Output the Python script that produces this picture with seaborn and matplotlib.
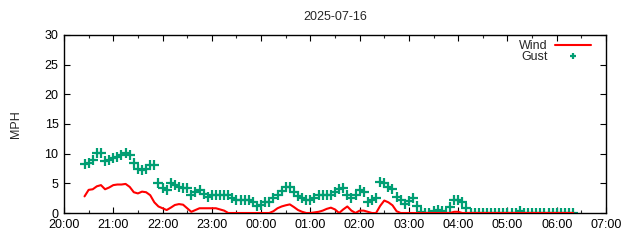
import matplotlib
matplotlib.use("Agg")
import matplotlib.pyplot as plt
import matplotlib.dates as mdates
import numpy as np
import pandas as pd
import seaborn as sns

# ---- data (5-minute samples starting 20:25) ----
start_time = "2025-07-16 20:25"
step = "5min"

wind = [
    2.8, 3.9, 4.0, 4.5, 4.7, 4.0, 4.3, 4.7, 4.8, 4.8,
    4.9, 4.4, 3.5, 3.3, 3.6, 3.5, 3.0, 1.8, 1.1, 0.8,
    0.5, 0.9, 1.35, 1.5, 1.4, 0.8, 0.2, 0.5, 0.8, 0.8,
    0.8, 0.8, 0.8, 0.6, 0.4, 0.0, 0.0, 0.0, 0.0, 0.0,
    0.0, 0.0, 0.0, 0.0, 0.0, 0.0, 0.3, 0.8, 1.1, 1.3,
    1.45, 1.0, 0.5, 0.2, 0.0, 0.0, 0.1, 0.2, 0.4, 0.7,
    0.9, 0.6, 0.0, 0.6, 1.1, 0.4, 0.0, 0.4, 0.4, 0.2,
    0.0, 0.0, 1.2, 2.1, 1.8, 1.3, 0.3, 0.0, 0.0, 0.0,
    0.0, 0.0, 0.0, 0.0, 0.0, 0.0, 0.0, 0.0, 0.0, 0.0,
    0.2, 0.2, 0.0, 0.0, 0.0, 0.0, 0.0, 0.0, 0.0, 0.0,
    0.0, 0.0, 0.0, 0.0, 0.0, 0.0, 0.0, 0.0, 0.0, 0.0,
    0.0, 0.0, 0.0, 0.0, 0.0, 0.0, 0.0, 0.0, 0.0, 0.0,
]

gust = [
    8.3, 8.5, 8.9, 10.1, 10.1, 8.8, 9.0, 9.2, 9.5, 9.8,
    10.1, 9.8, 8.4, 7.5, 7.25, 7.5, 8.1, 8.1, 5.0, 4.2,
    3.9, 5.0, 4.7, 4.4, 4.2, 4.2, 3.0, 3.5, 3.9, 3.2,
    2.75, 3.0, 3.0, 3.0, 3.0, 3.0, 2.6, 2.2, 2.2, 2.2,
    2.2, 1.9, 1.1, 1.4, 1.9, 1.9, 2.5, 3.0, 3.7, 4.4,
    4.4, 3.5, 2.8, 2.5, 2.2, 2.2, 2.5, 3.0, 3.0, 3.0,
    3.0, 3.5, 4.0, 4.2, 3.0, 2.5, 3.0, 3.9, 3.5, 1.9,
    2.2, 2.5, 5.3, 5.0, 4.4, 4.0, 2.75, 2.2, 1.6, 2.0,
    2.5, 1.2, 0.2, 0.0, 0.0, 0.3, 0.5, 0.3, 0.0, 1.0,
    2.2, 2.2, 1.9, 0.8, 0.0, 0.0, 0.0, 0.0, 0.0, 0.0,
    0.0, 0.0, 0.0, 0.0, 0.0, 0.0, 0.4, 0.0, 0.0, 0.0,
    0.0, 0.0, 0.0, 0.0, 0.0, 0.0, 0.0, 0.0, 0.0, 0.0,
]

title = "2025-07-16"
y_label = "MPH"
x_start = "2025-07-16 20:00"
x_end = "2025-07-17 07:00"
y_ticks = [0, 5, 10, 15, 20, 25, 30]

n = min(len(wind), len(gust))
times = pd.date_range(start_time, periods=n, freq=step)
df = pd.DataFrame({"time": times, "Wind": wind[:n], "Gust": gust[:n]})

# ---- style ----
sns.set_style("ticks")
plt.rcParams["font.family"] = ["Liberation Sans", "DejaVu Sans"]
plt.rcParams["font.size"] = 9

fig = plt.figure(figsize=(6.4, 2.4), dpi=100)
ax = fig.add_axes([64 / 640, 27 / 240, 542 / 640, 178 / 240])

sns.scatterplot(data=df, x="time", y="Gust", ax=ax, marker="+", s=48,
                color="#009e73", linewidth=1.6, label="Gust", zorder=2)
sns.lineplot(data=df, x="time", y="Wind", ax=ax, color="#ff0000",
             linewidth=1.5, label="Wind", zorder=3)

ax.set_xlim(pd.Timestamp(x_start), pd.Timestamp(x_end))
ax.set_ylim(0, 30)
ax.set_yticks(y_ticks)
ax.xaxis.set_major_locator(mdates.HourLocator(interval=1))
ax.xaxis.set_minor_locator(mdates.MinuteLocator(byminute=[30]))
ax.xaxis.set_major_formatter(mdates.DateFormatter("%H:%M"))

for s in ax.spines.values():
    s.set_linewidth(1.0)
    s.set_color("black")
ax.tick_params(axis="both", which="major", direction="in", length=4, width=0.8,
               top=True, right=True, labelsize=9, colors="black")
ax.tick_params(axis="x", which="major", pad=4)
ax.tick_params(axis="y", which="major", pad=4)
ax.tick_params(axis="x", which="minor", direction="in", length=2, width=0.8,
               top=True)
ax.tick_params(axis="y", which="minor", left=False, right=False)

ax.set_xlabel("")
ax.set_ylabel(y_label, fontsize=9, labelpad=16)
ax.set_title(title, fontsize=9, pad=11)

handles, labels = ax.get_legend_handles_labels()
order = [labels.index("Wind"), labels.index("Gust")]
leg = ax.legend([handles[i] for i in order], [labels[i] for i in order],
                loc="upper right", bbox_to_anchor=(0.982, 1.0),
                frameon=False, markerfirst=False, markerscale=0.6,
                fontsize=9, handlelength=2.9, handletextpad=0.6,
                labelspacing=-0.1, borderaxespad=0.0)

fig.savefig("out.png", dpi=100)
